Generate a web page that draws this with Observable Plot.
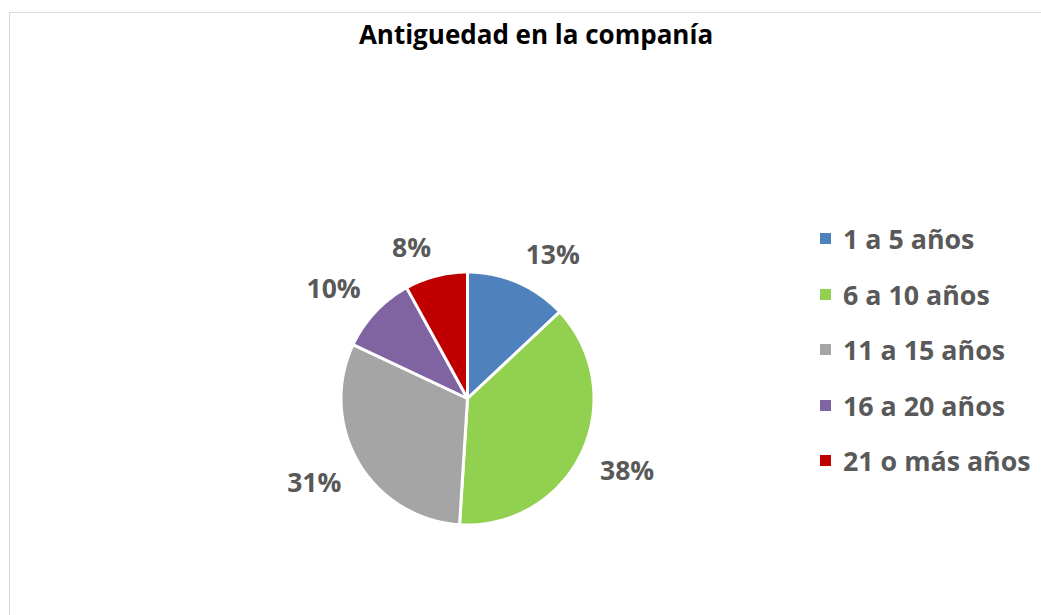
<!DOCTYPE html>
<html>
<head>
<meta charset="utf-8">
<script src="https://cdn.jsdelivr.net/npm/d3@7"></script>
<script src="https://cdn.jsdelivr.net/npm/@observablehq/plot@0.6"></script>
<style>
  html, body { margin: 0; padding: 0; background: #fff; }
  body { width: 1041px; height: 615px; position: relative; overflow: hidden; font-family: "Open Sans", Lato, sans-serif; }
  #frame { position: absolute; left: 9px; top: 12px; width: 1100px; height: 700px; border: 1px solid #d9d9d9; box-sizing: border-box; }
  #title { position: absolute; left: 0; top: 0; width: 1072px; height: 70px; text-align: center; font-weight: 700; font-size: 26px; color: #000; line-height: 34px; padding-top: 17px; box-sizing: border-box; }
  #chart { position: absolute; left: 0; top: 70px; }
  #legend { position: absolute; left: 820px; top: 211px; }
  .item { height: 55.5px; display: flex; align-items: center; font-weight: 700; font-size: 26.8px; color: #595959; white-space: nowrap; }
  .sw { width: 11px; height: 11px; margin-right: 12px; flex: none; }
</style>
</head>
<body>
<div id="frame"></div>
<div id="title">Antiguedad en la companía</div>
<div id="chart"></div>
<div id="legend"></div>
<script>
const categories = ["1 a 5 años", "6 a 10 años", "11 a 15 años", "16 a 20 años", "21 o más años"];
const values = [13, 38, 31, 10, 8];
const labels = ["13%", "38%", "31%", "10%", "8%"];
const colors = ["#4f81bd", "#92d050", "#a5a5a5", "#8064a2", "#c00000"];

const W = 1041, H = 545;
const cx = 467, cy = 328; // pie centre in svg pixels
const R = 126.5;

const pie = d3.pie().sort(null).value(d => d)(values);

// polygons for each slice (angle measured from top, clockwise)
const slices = pie.map((p, i) => {
  const pts = [{x: 0, y: 0}];
  const n = Math.max(2, Math.ceil((p.endAngle - p.startAngle) / (Math.PI / 180)));
  for (let j = 0; j <= n; j++) {
    const a = p.startAngle + (p.endAngle - p.startAngle) * j / n;
    pts.push({x: R * Math.sin(a), y: R * Math.cos(a)});
  }
  pts.push({x: 0, y: 0});
  return pts;
});

const labelData = pie.map((p, i) => {
  const a = (p.startAngle + p.endAngle) / 2;
  const r = R + 20;
  return {x: r * Math.sin(a), y: r * Math.cos(a), label: labels[i], right: Math.sin(a) >= 0, top: Math.cos(a) >= 0};
});

const textStyle = {text: "label", fontSize: 26.5, fontWeight: 700, fill: "#595959", fontFamily: "'Open Sans', Lato, sans-serif"};

const marks = [
  ...slices.map((s, i) => Plot.line(s, {x: "x", y: "y", fill: colors[i], stroke: "#fff", strokeWidth: 3, strokeLinejoin: "round", curve: "linear"})),
  Plot.text(labelData.filter(d => d.right && d.top), {x: "x", y: "y", ...textStyle, textAnchor: "start", lineAnchor: "bottom"}),
  Plot.text(labelData.filter(d => d.right && !d.top), {x: "x", y: "y", ...textStyle, textAnchor: "start", lineAnchor: "top"}),
  Plot.text(labelData.filter(d => !d.right && d.top), {x: "x", y: "y", ...textStyle, textAnchor: "end", lineAnchor: "bottom"}),
  Plot.text(labelData.filter(d => !d.right && !d.top), {x: "x", y: "y", ...textStyle, textAnchor: "end", lineAnchor: "top"})
];

const chart = Plot.plot({
  width: W,
  height: H,
  margin: 0,
  x: {domain: [-cx, W - cx], axis: null},
  y: {domain: [cy - H, cy], axis: null},
  style: {background: "transparent", overflow: "visible"},
  marks
});
document.getElementById("chart").appendChild(chart);

const legend = document.getElementById("legend");
categories.forEach((c, i) => {
  const row = document.createElement("div");
  row.className = "item";
  const sw = document.createElement("span");
  sw.className = "sw";
  sw.style.background = colors[i];
  row.appendChild(sw);
  row.appendChild(document.createTextNode(c));
  legend.appendChild(row);
});
</script>
</body>
</html>
